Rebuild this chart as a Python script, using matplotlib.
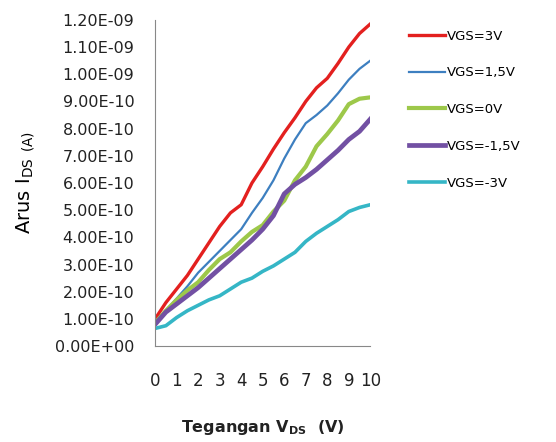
import numpy as np
import matplotlib.pyplot as plt
from matplotlib.ticker import FuncFormatter

# Tegangan V_DS (V)
vds = [0, 0.5, 1, 1.5, 2, 2.5, 3, 3.5, 4, 4.5, 5,
       5.5, 6, 6.5, 7, 7.5, 8, 8.5, 9, 9.5, 10]

# Arus I_DS (dalam 1e-10 A)
vgs_3 = [1.0, 1.6, 2.1, 2.6, 3.2, 3.8, 4.4, 4.9, 5.2, 6.0, 6.6,
         7.25, 7.85, 8.4, 9.0, 9.5, 9.85, 10.4, 11.0, 11.5, 11.85]
vgs_1_5 = [0.9, 1.3, 1.75, 2.2, 2.7, 3.1, 3.5, 3.9, 4.3, 4.9, 5.45,
           6.1, 6.9, 7.6, 8.2, 8.5, 8.85, 9.3, 9.8, 10.2, 10.5]
vgs_0 = [0.85, 1.3, 1.7, 2.05, 2.35, 2.8, 3.2, 3.45, 3.85, 4.2, 4.45,
         4.95, 5.35, 6.1, 6.6, 7.35, 7.8, 8.3, 8.9, 9.1, 9.15]
vgs_m1_5 = [0.8, 1.25, 1.55, 1.85, 2.15, 2.5, 2.85, 3.2, 3.55, 3.9, 4.3,
            4.8, 5.6, 5.95, 6.2, 6.5, 6.85, 7.2, 7.6, 7.9, 8.35]
vgs_m3 = [0.65, 0.75, 1.05, 1.3, 1.5, 1.7, 1.85, 2.1, 2.35, 2.5, 2.75,
          2.95, 3.2, 3.45, 3.85, 4.15, 4.4, 4.65, 4.95, 5.1, 5.2]

labels = ["VGS=3V", "VGS=1,5V", "VGS=0V", "VGS=-1,5V", "VGS=-3V"]
colors = ["#e3201f", "#3d7fc0", "#9dc84a", "#7250a3", "#35b6c6"]
widths = [2.4, 1.6, 3.0, 3.4, 2.6]

x_ticks = list(range(0, 11))
y_ticks = [i * 1e-10 for i in range(0, 13)]

fig = plt.figure(figsize=(5.56, 4.42), dpi=100)
ax = fig.add_axes([0.279, 0.217, 0.387, 0.738])

series = [vgs_3, vgs_1_5, vgs_0, vgs_m1_5, vgs_m3]
for ys, lab, c, lw in zip(series, labels, colors, widths):
    ax.plot(vds, np.array(ys) * 1e-10, color=c, lw=lw, label=lab)

ax.set_xlim(0, 10)
ax.set_ylim(0, 1.2e-9)
ax.set_xticks(x_ticks)
ax.set_yticks(y_ticks)
ax.yaxis.set_major_formatter(FuncFormatter(lambda v, p: f"{v:.2E}"))
ax.tick_params(axis="both", length=0, colors="#222222")
ax.tick_params(axis="y", pad=15, labelsize=11.5)
ax.tick_params(axis="x", pad=19, labelsize=12)

for s in ["top", "right"]:
    ax.spines[s].set_visible(False)
for s in ["left", "bottom"]:
    ax.spines[s].set_color("#888888")

ax.set_ylabel(r"Arus I$_{\mathregular{DS}}$ $_{\mathregular{(A)}}$", fontsize=14, labelpad=13)
ax.set_xlabel(r"Tegangan V$_{\mathregular{DS}}$  (V)", fontsize=11.5,
              fontweight="bold", labelpad=20, color="#222222")

ax.legend(loc="upper left", bbox_to_anchor=(0.715, 0.96), bbox_transform=fig.transFigure,
          frameon=False, fontsize=9.5, handlelength=2.7, handletextpad=0.15,
          labelspacing=1.8)

fig.savefig("out.png", dpi=100)
